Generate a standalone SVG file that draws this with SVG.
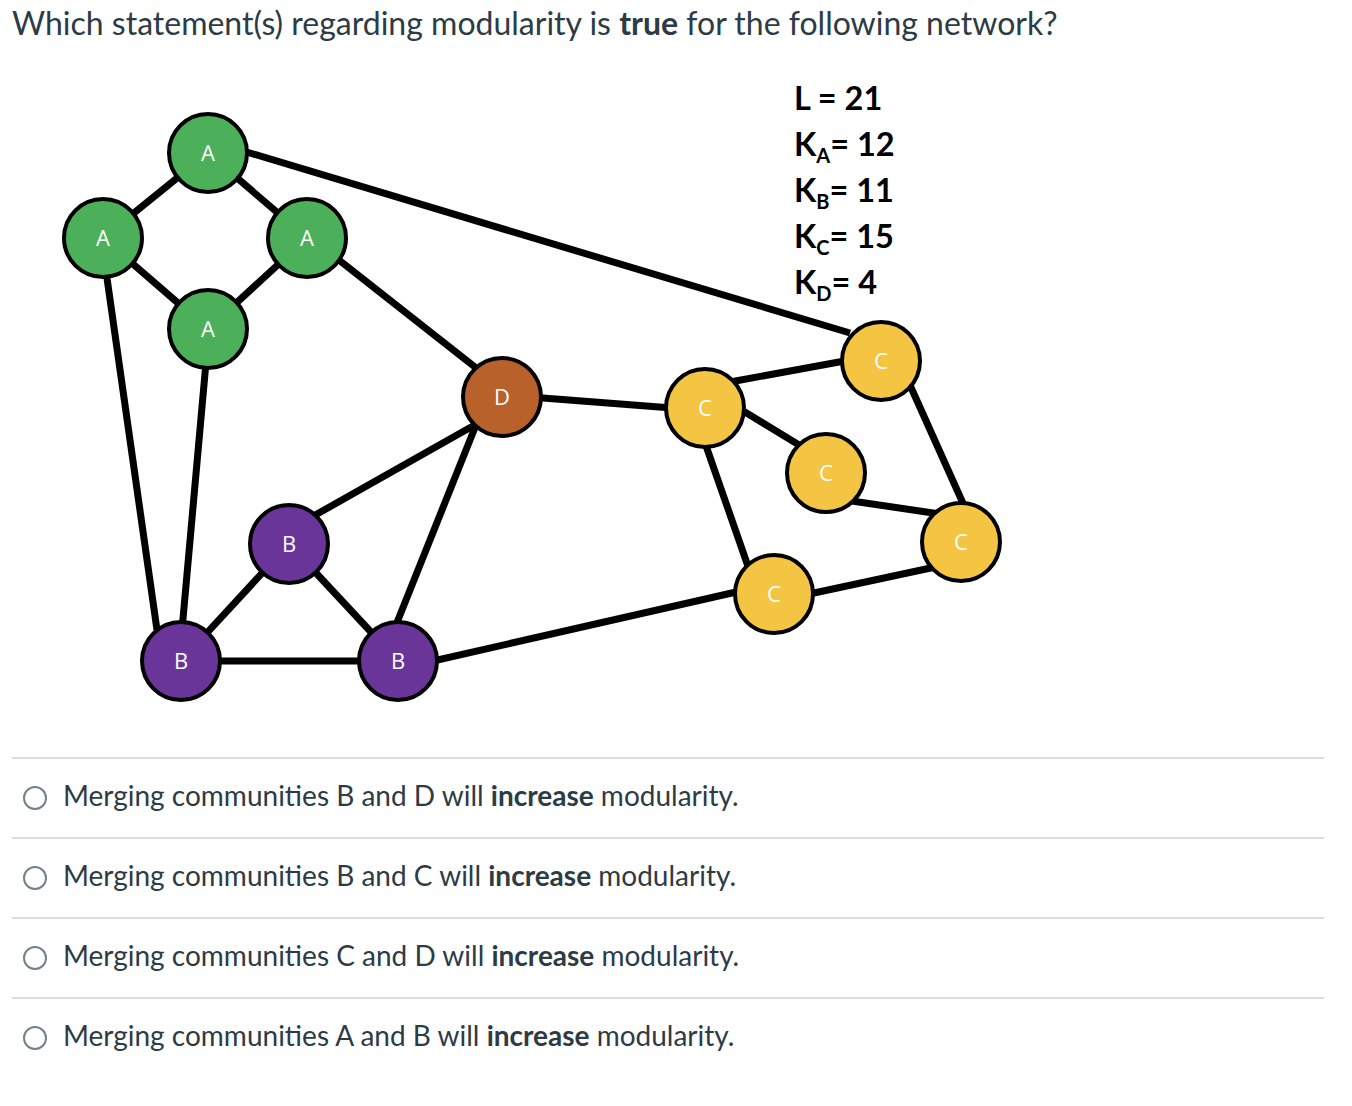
<svg xmlns="http://www.w3.org/2000/svg" width="1352" height="1106" viewBox="0 0 1352 1106">
<style>
.q{font-family:Lato,"Open Sans",sans-serif;fill:#2d3b45}
.nd circle{stroke:#000;stroke-width:4}
.nd text{font-family:"Open Sans",sans-serif;font-size:22px;fill:#fff;text-anchor:middle}
.a circle{fill:#4caf5a}
.b circle{fill:#6a3598}
.c circle{fill:#f4c443}
.d circle{fill:#b9612b}
#edges line{stroke:#000;stroke-width:7}
.k{font-family:Lato,"Open Sans",sans-serif;font-weight:bold;font-size:32.5px;fill:#000}
.sep{stroke:#dddddd;stroke-width:2}
.rb{fill:#fff;stroke:#73818a;stroke-width:2}
</style>
<rect width="1352" height="1106" fill="#fff"/>
<text class="q" x="12" y="35" font-size="32">Which statement(s) regarding modularity is <tspan font-weight="bold">true</tspan> for the following network?</text>
<g id="edges">
<line x1="208" y1="153" x2="103" y2="238"/>
<line x1="208" y1="153" x2="307" y2="238"/>
<line x1="103" y1="238" x2="208" y2="329"/>
<line x1="307" y1="238" x2="208" y2="329"/>
<line x1="240" y1="150" x2="850" y2="333"/>
<line x1="103" y1="250" x2="157" y2="630"/>
<line x1="208" y1="340" x2="182" y2="630"/>
<line x1="330" y1="253" x2="480" y2="371"/>
<line x1="530" y1="397" x2="672" y2="408"/>
<line x1="480" y1="422" x2="310" y2="518"/>
<line x1="478" y1="420" x2="394" y2="630"/>
<line x1="289" y1="544" x2="181" y2="661"/>
<line x1="289" y1="544" x2="398" y2="661"/>
<line x1="181" y1="661" x2="398" y2="661"/>
<line x1="420" y1="664" x2="745" y2="590"/>
<line x1="730" y1="382" x2="850" y2="360"/>
<line x1="730" y1="403" x2="804" y2="448"/>
<line x1="704" y1="440" x2="750" y2="572"/>
<line x1="905" y1="374" x2="966" y2="510"/>
<line x1="845" y1="500" x2="940" y2="514"/>
<line x1="800" y1="596" x2="940" y2="566"/>
</g>
<g id="nA1" class="nd a"><circle cx="208" cy="153" r="39"/><text x="208" y="161">A</text></g>
<g id="nA2" class="nd a"><circle cx="103" cy="238" r="39"/><text x="103" y="246">A</text></g>
<g id="nA3" class="nd a"><circle cx="307" cy="238" r="39"/><text x="307" y="246">A</text></g>
<g id="nA4" class="nd a"><circle cx="208" cy="329" r="39"/><text x="208" y="337">A</text></g>
<g id="nD" class="nd d"><circle cx="502" cy="397" r="39"/><text x="502" y="405">D</text></g>
<g id="nB1" class="nd b"><circle cx="289" cy="544" r="39"/><text x="289" y="552">B</text></g>
<g id="nB2" class="nd b"><circle cx="181" cy="661" r="39"/><text x="181" y="669">B</text></g>
<g id="nB3" class="nd b"><circle cx="398" cy="661" r="39"/><text x="398" y="669">B</text></g>
<g id="nC1" class="nd c"><circle cx="705" cy="408" r="39"/><text x="705" y="416">C</text></g>
<g id="nC2" class="nd c"><circle cx="881" cy="361" r="39"/><text x="881" y="369">C</text></g>
<g id="nC3" class="nd c"><circle cx="826" cy="473" r="39"/><text x="826" y="481">C</text></g>
<g id="nC4" class="nd c"><circle cx="961" cy="542" r="39"/><text x="961" y="550">C</text></g>
<g id="nC5" class="nd c"><circle cx="774" cy="594" r="39"/><text x="774" y="602">C</text></g>
<g id="legend">
<text class="k" x="794" y="110">L = 21</text>
<text class="k" x="794" y="156">K<tspan font-size="20" dy="7">A</tspan><tspan dy="-7">= 12</tspan></text>
<text class="k" x="794" y="202">K<tspan font-size="20" dy="7">B</tspan><tspan dy="-7">= 11</tspan></text>
<text class="k" x="794" y="248">K<tspan font-size="20" dy="7">C</tspan><tspan dy="-7">= 15</tspan></text>
<text class="k" x="794" y="294">K<tspan font-size="20" dy="7">D</tspan><tspan dy="-7">= 4</tspan></text>
</g>
<g id="options">
<line class="sep" x1="12" y1="758" x2="1324" y2="758"/>
<circle class="rb" cx="35" cy="798" r="11"/>
<text class="q" x="63" y="806" font-size="28">Merging communities B and D will <tspan font-weight="bold">increase</tspan> modularity.</text>
<line class="sep" x1="12" y1="838" x2="1324" y2="838"/>
<circle class="rb" cx="35" cy="878" r="11"/>
<text class="q" x="63" y="886" font-size="28">Merging communities B and C will <tspan font-weight="bold">increase</tspan> modularity.</text>
<line class="sep" x1="12" y1="918" x2="1324" y2="918"/>
<circle class="rb" cx="35" cy="958" r="11"/>
<text class="q" x="63" y="966" font-size="28">Merging communities C and D will <tspan font-weight="bold">increase</tspan> modularity.</text>
<line class="sep" x1="12" y1="998" x2="1324" y2="998"/>
<circle class="rb" cx="35" cy="1038" r="11"/>
<text class="q" x="63" y="1046" font-size="28">Merging communities A and B will <tspan font-weight="bold">increase</tspan> modularity.</text>
</g>
</svg>
